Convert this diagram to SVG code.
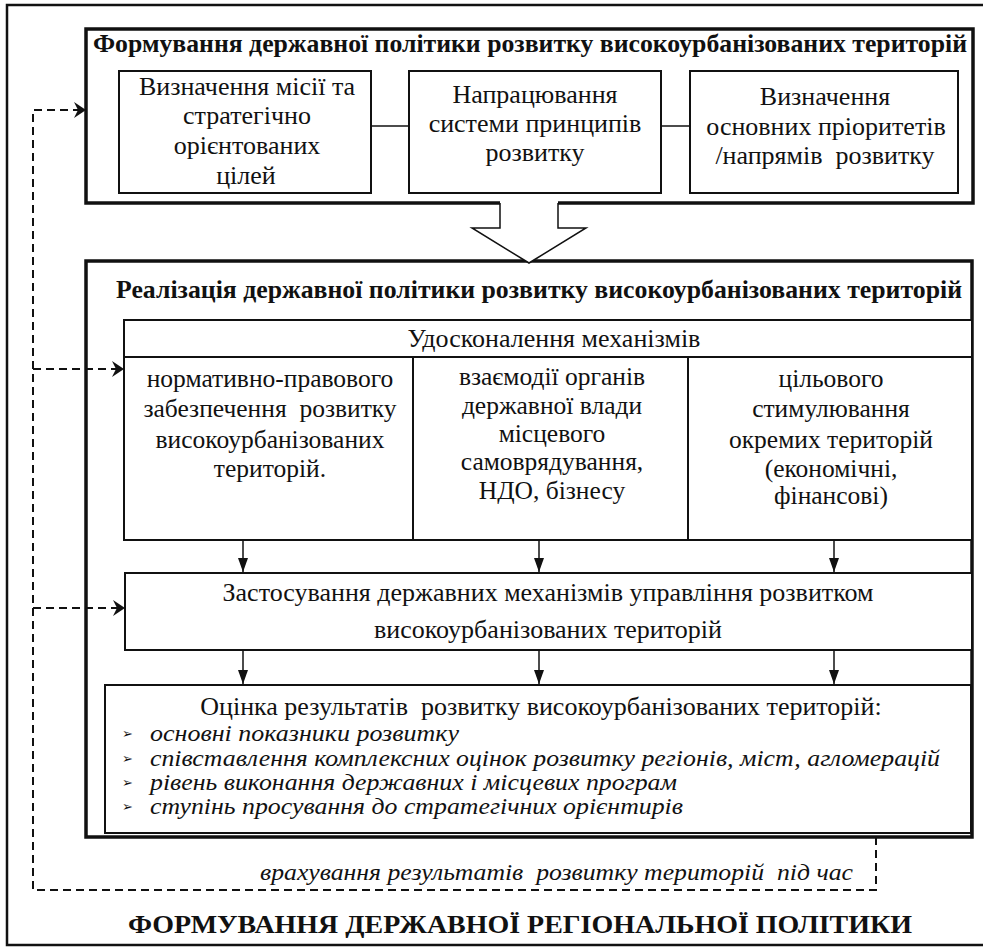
<svg xmlns="http://www.w3.org/2000/svg" width="983" height="948" viewBox="0 0 983 948" xml:space="preserve">
<style>
text{font-family:'Liberation Serif','Times New Roman','DejaVu Serif',serif;white-space:pre}
.t{font-size:25.5px;fill:#111;text-anchor:middle}
.m{font-size:26px}
.b{font-weight:bold}
.i{font-style:italic;text-anchor:start;font-size:22.5px}
.box{fill:#fff;stroke:#111;stroke-width:2}
.thick{fill:#fff;stroke:#111;stroke-width:3.5}
.ln{stroke:#111;stroke-width:1.5;fill:none}
.dash{stroke:#111;stroke-width:2;fill:none;stroke-dasharray:8 5}
text.bul{font-family:'DejaVu Sans',sans-serif;font-size:13px;fill:#111}
</style>
<defs>
<marker id="ah" markerWidth="12" markerHeight="16" refX="11" refY="8" orient="auto" markerUnits="userSpaceOnUse">
<path d="M0,0 L12,8 L0,16 L4,8 z" fill="#111"/>
</marker>
<marker id="dn" markerWidth="10" markerHeight="14" refX="5" refY="14" orient="0" markerUnits="userSpaceOnUse">
<path d="M0,0 L10,0 L5,14 z" fill="#111"/>
</marker>
</defs>
<rect x="7" y="5" width="990" height="940" fill="#fff" stroke="#111" stroke-width="2.5"/>

<g id="top-block">
<rect class="thick" x="86" y="29" width="887" height="174"/>
<text class="t b" x="530" y="52" font-size="25" textLength="874" lengthAdjust="spacingAndGlyphs">Формування державної політики розвитку високоурбанізованих територій</text>
</g>
<g id="mission">
<rect class="box" x="119" y="71" width="252" height="122"/>
<text class="t m" x="247" y="95">Визначення місії та</text>
<text class="t m" x="247" y="124">стратегічно</text>
<text class="t m" x="247" y="154">орієнтованих</text>
<text class="t m" x="246" y="184">цілей</text>
</g>
<g id="principles">
<rect class="box" x="409" y="71" width="252" height="122"/>
<text class="t m" x="535" y="103">Напрацювання</text>
<text class="t m" x="535" y="132">системи принципів</text>
<text class="t m" x="535" y="161">розвитку</text>
</g>
<g id="priorities">
<rect class="box" x="690" y="71" width="268" height="122"/>
<text class="t m" x="825" y="105">Визначення</text>
<text class="t m" x="826" y="135">основних пріоритетів</text>
<text class="t m" x="825" y="164">/напрямів  розвитку</text>
</g>

<g id="impl-block">
<rect class="thick" x="86" y="261" width="886" height="576"/>
<text class="t b" x="539" y="298" font-size="25" textLength="846" lengthAdjust="spacingAndGlyphs">Реалізація державної політики розвитку високоурбанізованих територій</text>
</g>
<g id="improve">
<rect class="box" x="124" y="320" width="848" height="37"/>
<text class="t m" x="554" y="347">Удосконалення механізмів</text>
</g>
<g id="legal">
<rect class="box" x="124" y="357" width="289" height="183"/>
<text class="t" x="270" y="387">нормативно-правового</text>
<text class="t" x="270" y="417">забезпечення  розвитку</text>
<text class="t" x="270" y="448">високоурбанізованих</text>
<text class="t" x="270" y="477">територій.</text>
</g>
<g id="interaction">
<rect class="box" x="413" y="357" width="275" height="183"/>
<text class="t" x="552" y="385">взаємодії органів</text>
<text class="t" x="552" y="414">державної влади</text>
<text class="t" x="552" y="442">місцевого</text>
<text class="t" x="552" y="470">самоврядування,</text>
<text class="t" x="552" y="499">НДО, бізнесу</text>
</g>
<g id="stimulus">
<rect class="box" x="688" y="357" width="284" height="183"/>
<text class="t" x="831" y="387">цільового</text>
<text class="t" x="831" y="417">стимулювання</text>
<text class="t" x="831" y="448">окремих територій</text>
<text class="t" x="831" y="477">(економічні,</text>
<text class="t" x="831" y="504">фінансові)</text>
</g>
<g id="apply">
<rect class="box" x="125" y="573" width="847" height="77"/>
<text class="t m" x="548" y="601">Застосування державних механізмів управління розвитком</text>
<text class="t m" x="548" y="638">високоурбанізованих територій</text>
</g>
<g id="evaluate">
<rect class="box" x="105" y="685" width="866" height="148"/>
<text class="t m" x="541" y="715">Оцінка результатів  розвитку високоурбанізованих територій:</text>
<text class="bul" x="122" y="738">➢</text>
<text class="t i" x="150" y="741" textLength="309" lengthAdjust="spacingAndGlyphs">основні показники розвитку</text>
<text class="bul" x="122" y="763">➢</text>
<text class="t i" x="150" y="766" textLength="790" lengthAdjust="spacingAndGlyphs">співставлення комплексних оцінок розвитку регіонів, міст, агломерацій</text>
<text class="bul" x="122" y="787">➢</text>
<text class="t i" x="150" y="790" textLength="527" lengthAdjust="spacingAndGlyphs">рівень виконання державних і місцевих програм</text>
<text class="bul" x="122" y="811">➢</text>
<text class="t i" x="150" y="814" textLength="533" lengthAdjust="spacingAndGlyphs">ступінь просування до стратегічних орієнтирів</text>
</g>

<g id="big-arrow">
<polygon points="500,201 558,201 558,228 586,228 529,263 472,228 500,228" fill="#fff" stroke="none"/>
<polyline points="500,203 500,228 472,228 529,263 586,228 558,228 558,203" class="ln"/>
</g>

<g id="connectors">
<line class="ln" x1="371" y1="126" x2="409" y2="126"/>
<line class="ln" x1="661" y1="126" x2="690" y2="126"/>
<line class="ln" x1="243" y1="540" x2="243" y2="572" marker-end="url(#dn)"/>
<line class="ln" x1="539" y1="540" x2="539" y2="572" marker-end="url(#dn)"/>
<line class="ln" x1="834" y1="540" x2="834" y2="572" marker-end="url(#dn)"/>
<line class="ln" x1="243" y1="650" x2="243" y2="684" marker-end="url(#dn)"/>
<line class="ln" x1="539" y1="650" x2="539" y2="684" marker-end="url(#dn)"/>
<line class="ln" x1="834" y1="650" x2="834" y2="684" marker-end="url(#dn)"/>
<path class="dash" d="M876,837 L876,890 L33,890 L33,110 L85,110" marker-end="url(#ah)"/>
<path class="dash" d="M33,369 L123,369" marker-end="url(#ah)"/>
<path class="dash" d="M33,608 L124,608" marker-end="url(#ah)"/>
</g>

<g id="labels">
<text class="t i" x="260" y="880" textLength="593" lengthAdjust="spacingAndGlyphs">врахування результатів  розвитку територій  під час</text>
<text class="t b" x="520" y="933" font-size="27" textLength="784" lengthAdjust="spacingAndGlyphs">ФОРМУВАННЯ ДЕРЖАВНОЇ РЕГІОНАЛЬНОЇ ПОЛІТИКИ</text>
</g>
</svg>
